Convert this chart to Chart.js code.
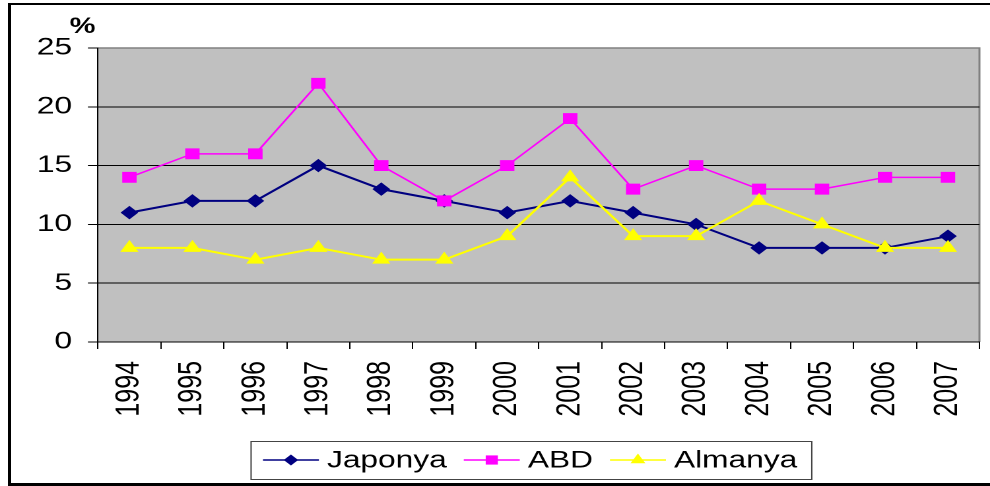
<!DOCTYPE html>
<html>
<head>
  <meta charset="utf-8">
  <title>Japonya - ABD - Almanya</title>
  <script src="https://cdn.jsdelivr.net/npm/chart.js"></script>
  <style>
    html, body { margin: 0; padding: 0; background: #fff; overflow: hidden; }
    /* the original picture is stretched sideways, so the chart is drawn narrow and widened */
    .stretch {
      position: absolute; left: 0; top: 0;
      width: 750px; height: 486px;
      transform: scaleX(1.32); transform-origin: 0 0;
    }
    .frame {
      position: absolute; left: 8px; top: 3px;
      width: 990px; height: 483px; box-sizing: border-box;
      border-left: 3px solid #000; border-top: 2px solid #000; border-bottom: 3px solid #000;
      pointer-events: none;
    }
  </style>
</head>
<body>
  <div class="stretch">
    <canvas id="chart"></canvas>
  </div>
  <div class="frame"></div>

  <script>
    // veriler
    const years = ['1994', '1995', '1996', '1997', '1998', '1999', '2000', '2001', '2002', '2003', '2004', '2005', '2006', '2007'];
    const japonya = [11, 12, 12, 15, 13, 12, 11, 12, 11, 10, 8, 8, 8, 9];
    const abd = [14, 16, 16, 22, 15, 12, 15, 19, 13, 15, 13, 13, 14, 14];
    const almanya = [8, 8, 7, 8, 7, 7, 9, 14, 9, 9, 12, 10, 8, 8];
    const yMin = 0, yMax = 25, yStep = 5;
    const unitLabel = '%';

    const FONT = '"Liberation Sans", Arial, sans-serif';
    Chart.defaults.font.family = FONT;
    Chart.defaults.font.size = 24;
    Chart.defaults.color = '#000';

    // gri çizim alanı, % etiketi ve kutulu açıklama
    const excelLook = {
      id: 'excelLook',
      beforeDraw(chart) {
        const { ctx, chartArea: a } = chart;
        ctx.save();
        ctx.fillStyle = '#c0c0c0';
        ctx.fillRect(a.left, a.top, a.width, a.height);
        ctx.strokeStyle = '#808080';
        ctx.lineWidth = 1.5;
        ctx.beginPath();
        ctx.moveTo(a.left, a.top);
        ctx.lineTo(a.right, a.top);
        ctx.lineTo(a.right, a.bottom);
        ctx.stroke();
        ctx.restore();
      },
      afterDraw(chart) {
        const ctx = chart.ctx;
        ctx.save();
        ctx.fillStyle = '#000';
        ctx.font = 'bold 22px ' + FONT;
        ctx.textAlign = 'center';
        ctx.textBaseline = 'alphabetic';
        ctx.fillText(unitLabel, 62.5, 33);

        // açıklama kutusu
        const top = 441, bottom = 479, midY = 460;
        const boxLeft = 190.2;
        let x = boxLeft + 9;
        ctx.font = '24px ' + FONT;
        ctx.textAlign = 'left';
        ctx.textBaseline = 'middle';
        chart.data.datasets.forEach(ds => {
          ctx.strokeStyle = ds.borderColor;
          ctx.lineWidth = 1.5;
          ctx.beginPath();
          ctx.moveTo(x, midY);
          ctx.lineTo(x + 42.4, midY);
          ctx.stroke();
          ctx.fillStyle = ds.borderColor;
          Chart.helpers.drawPoint(ctx, {
            pointStyle: ds.pointStyle, radius: ds.pointRadius - 0.5, rotation: 0, borderWidth: 0
          }, x + 21.2, midY);
          ctx.fillStyle = '#000';
          const tx = x + 48.5;
          ctx.fillText(ds.label, tx, midY + 1);
          x = tx + ctx.measureText(ds.label).width + 12.9;
        });
        const boxRight = x - 12.9 + 11;
        ctx.strokeStyle = '#444';
        ctx.lineWidth = 1;
        ctx.strokeRect(boxLeft, top + 0.5, boxRight - boxLeft, bottom - top);
        ctx.restore();
      }
    };

    const ctx = document.getElementById('chart').getContext('2d');
    const chart = new Chart(ctx, {
      type: 'line',
      data: {
        labels: years,
        datasets: [
          {
            label: 'Japonya',
            data: japonya,
            borderColor: '#000080',
            backgroundColor: '#000080',
            borderWidth: 2,
            pointStyle: 'rectRot',
            pointRadius: 6,
            pointBorderWidth: 1,
            order: 3
          },
          {
            label: 'ABD',
            data: abd,
            borderColor: '#ff00ff',
            backgroundColor: '#ff00ff',
            borderWidth: 1.5,
            pointStyle: 'rect',
            pointRadius: 7,
            pointBorderWidth: 1,
            order: 2
          },
          {
            label: 'Almanya',
            data: almanya,
            borderColor: '#ffff00',
            backgroundColor: '#ffff00',
            borderWidth: 2,
            pointStyle: 'triangle',
            pointRadius: 7,
            pointBorderWidth: 1,
            order: 1
          }
        ]
      },
      options: {
        responsive: true,
        maintainAspectRatio: false,
        animation: false,
        devicePixelRatio: 2,
        layout: { padding: { top: 48, left: 0, right: 6.1, bottom: 0 } },
        plugins: {
          legend: { display: false },
          tooltip: { enabled: false }
        },
        elements: { line: { tension: 0 } },
        scales: {
          x: {
            type: 'category',
            offset: true,
            grid: {
              offset: true,
              drawOnChartArea: false,
              drawTicks: true,
              tickLength: 7,
              tickColor: '#000'
            },
            border: { color: '#000', width: 1 },
            ticks: {
              minRotation: 90,
              maxRotation: 90,
              padding: 12,
              autoSkip: false,
              font: { size: 25 }
            },
            afterFit(scale) {
              scale.height = 144;
              scale.paddingLeft = 0;
              scale.paddingRight = 0;
            }
          },
          y: {
            min: yMin,
            max: yMax,
            grid: {
              color: c => (c.tick && c.tick.value === yMax) ? 'rgba(0,0,0,0)' : '#000',
              tickColor: '#000',
              tickLength: 7.6,
              lineWidth: 1
            },
            border: { color: '#000', width: 1 },
            ticks: {
              stepSize: yStep,
              padding: 12,
              font: { size: 24 }
            },
            afterFit(scale) { scale.width = 74.2; }
          }
        }
      },
      plugins: [excelLook]
    });
  </script>
</body>
</html>
